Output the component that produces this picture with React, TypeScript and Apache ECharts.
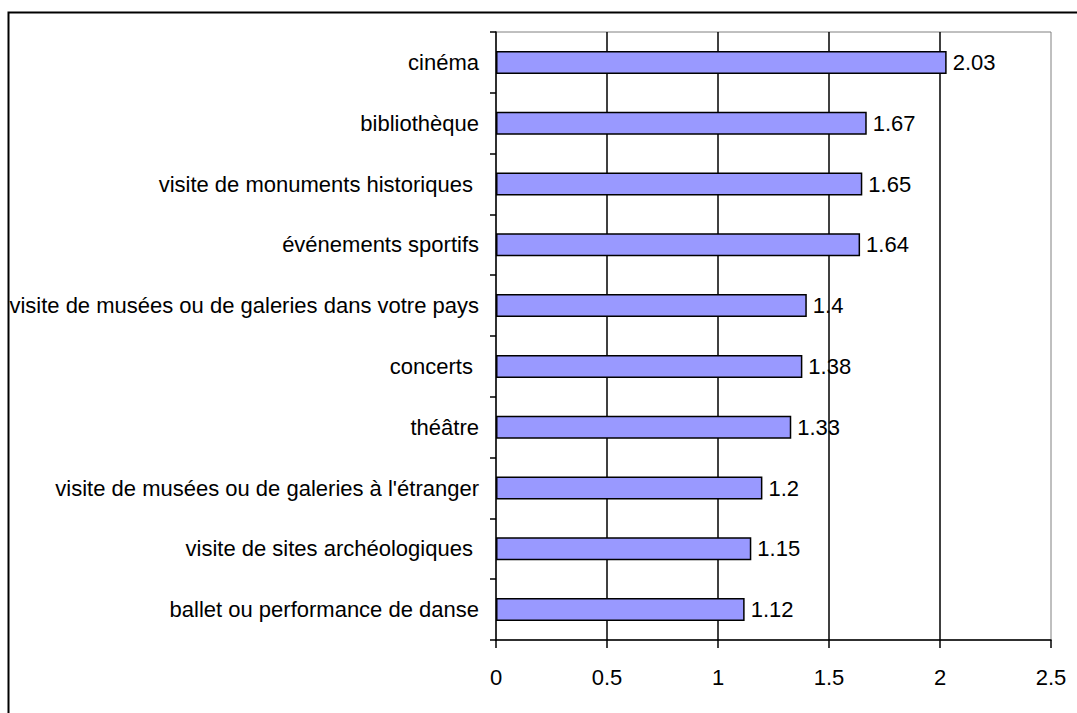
import React, { useEffect, useRef } from "react";
import * as echarts from "echarts";

const categories = [
  "cinéma",
  "bibliothèque",
  "visite de monuments historiques ",
  "événements sportifs",
  "visite de musées ou de galeries dans votre pays",
  "concerts ",
  "théâtre",
  "visite de musées ou de galeries à l'étranger",
  "visite de sites archéologiques ",
  "ballet ou performance de danse",
];
const values = [2.03, 1.67, 1.65, 1.64, 1.4, 1.38, 1.33, 1.2, 1.15, 1.12];
const xMin = 0;
const xMax = 2.5;
const xStep = 0.5;

const FONT = "'Liberation Sans', Arial, sans-serif";

export default function App() {
  const ref = useRef<HTMLDivElement>(null);
  useEffect(() => {
    if (!ref.current) return;
    const chart = echarts.init(ref.current, null, { renderer: "svg" });
    chart.setOption({
      animation: false,
      backgroundColor: "#ffffff",
      graphic: [
        {
          type: "rect",
          shape: { x: 8.5, y: 12.5, width: 1200, height: 900 },
          style: { fill: "none", stroke: "#000", lineWidth: 2 },
          z: 100,
          silent: true,
        },
      ],
      grid: {
        left: 496,
        right: 26,
        top: 32,
        bottom: 73,
        show: true,
        borderColor: "#808080",
        borderWidth: 1,
        backgroundColor: "transparent",
      },
      xAxis: {
        type: "value",
        min: xMin,
        max: xMax,
        interval: xStep,
        axisLine: { show: true, lineStyle: { color: "#000", width: 1.5 } },
        axisTick: { show: true, length: 8, lineStyle: { color: "#000", width: 1.5 } },
        axisLabel: {
          color: "#000",
          fontFamily: FONT,
          fontSize: 22,
          margin: 26,
        },
        splitLine: {
          show: true,
          showMinLine: false,
          showMaxLine: false,
          lineStyle: { color: "#000", width: 1.5 },
        },
      },
      yAxis: {
        type: "category",
        data: categories,
        inverse: true,
        axisLine: { show: true, lineStyle: { color: "#000", width: 1.5 } },
        axisTick: { show: true, length: 6, lineStyle: { color: "#000", width: 1.5 } },
        axisLabel: {
          color: "#000",
          fontFamily: FONT,
          fontSize: 22,
          margin: 17,
        },
        splitLine: { show: false },
      },
      series: [
        {
          type: "bar",
          data: values,
          barWidth: 23,
          itemStyle: { color: "#9999FF", borderColor: "#000", borderWidth: 1.5 },
          label: {
            show: true,
            position: "right",
            distance: 6,
            color: "#000",
            fontFamily: FONT,
            fontSize: 22,
            formatter: (p: any) => String(p.value),
          },
        },
      ],
    });
    return () => chart.dispose();
  }, []);
  return (
    <div
      ref={ref}
      style={{ position: "fixed", left: 0, top: 0, width: 1077, height: 713, background: "#fff" }}
    />
  );
}
